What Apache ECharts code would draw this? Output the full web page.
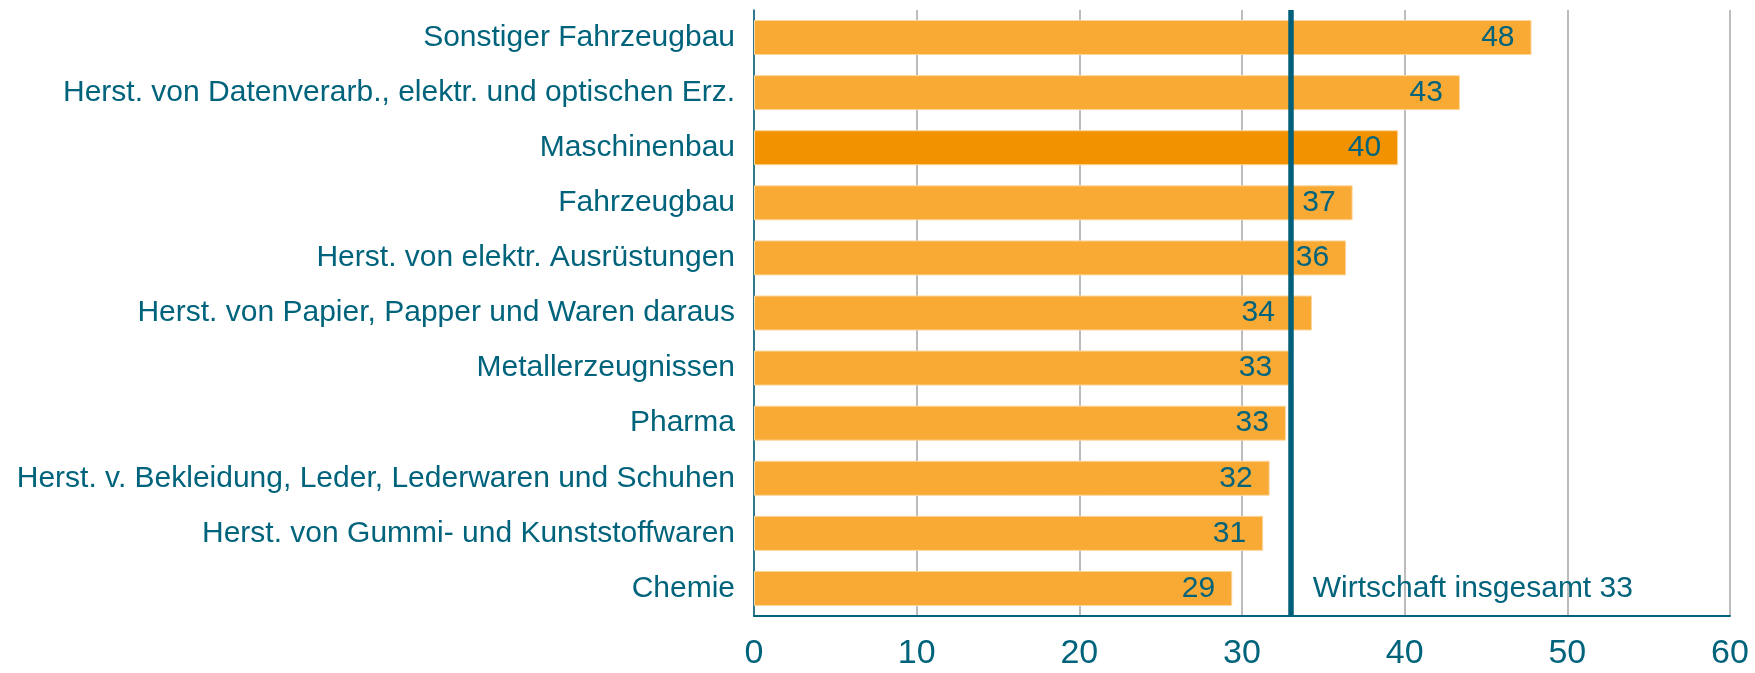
<!DOCTYPE html>
<html>
<head>
<meta charset="utf-8">
<script src="https://cdn.jsdelivr.net/npm/echarts@6/dist/echarts.min.js"></script>
<style>
  html, body { margin: 0; padding: 0; background: #fff; }
  #chart { width: 1755px; height: 673px; }
</style>
</head>
<body>
<div id="chart"></div>
<script>
// Branchen, von oben nach unten
const categories = [
  'Sonstiger Fahrzeugbau',
  'Herst. von Datenverarb., elektr. und optischen Erz.',
  'Maschinenbau',
  'Fahrzeugbau',
  'Herst. von elektr. Ausrüstungen',
  'Herst. von Papier, Papper und Waren daraus',
  'Metallerzeugnissen',
  'Pharma',
  'Herst. v. Bekleidung, Leder, Lederwaren und Schuhen',
  'Herst. von Gummi- und Kunststoffwaren',
  'Chemie'
]
const values = [47.8, 43.4, 39.6, 36.8, 36.4, 34.3, 32.9, 32.7, 31.7, 31.3, 29.4]
const highlighted = 'Maschinenbau'

// Referenzlinie
const refValue = 33
const refLabel = 'Wirtschaft insgesamt 33'

// x-Achse
const xMin = 0
const xMax = 60
const xStep = 10

const teal = '#00637c'
const barColor = '#f9aa35'
const barHighlight = '#f39200'
const font = "'Liberation Sans', Arial, sans-serif"

// Label, das sonst von der Referenzlinie verdeckt wird, etwas nach links schieben
const labelNudge = { 'Herst. von Papier, Papper und Waren daraus': -20 }

const chart = echarts.init(document.getElementById('chart'))

const option = {
  animation: false,
  textStyle: { fontFamily: font },
  grid: {
    left: 754,
    right: 25,
    top: 10,
    bottom: 57
  },
  xAxis: {
    type: 'value',
    min: xMin,
    max: xMax,
    interval: xStep,
    axisLine: { show: true, lineStyle: { color: teal, width: 2 } },
    axisTick: { show: false },
    axisLabel: { color: teal, fontSize: 34, margin: 21, fontFamily: font },
    splitLine: { show: true, lineStyle: { color: '#a6a6a6', width: 1.5 } }
  },
  yAxis: {
    type: 'category',
    inverse: true,
    data: categories,
    axisLine: { show: true, lineStyle: { color: teal, width: 1.5 } },
    axisTick: { show: false },
    axisLabel: { color: teal, fontSize: 30, margin: 19, fontFamily: font }
  },
  series: [
    {
      type: 'bar',
      barWidth: 35,
      data: values.map((v, i) => {
        const item = {
          value: v,
          itemStyle: { color: categories[i] === highlighted ? barHighlight : barColor }
        }
        if (labelNudge[categories[i]]) {
          item.label = { offset: [labelNudge[categories[i]], 0] }
        }
        return item
      }),
      itemStyle: { borderColor: '#fdd79c', borderWidth: 1 },
      label: {
        show: true,
        position: 'insideRight',
        distance: 17,
        color: teal,
        fontSize: 30,
        fontFamily: font,
        formatter: p => Math.round(p.value)
      },
      markLine: {
        silent: true,
        symbol: 'none',
        lineStyle: { color: '#005f7a', width: 5.5, type: 'solid' },
        label: { show: false },
        data: [{ xAxis: refValue }]
      },
      markPoint: {
        silent: true,
        symbol: 'circle',
        symbolSize: 0,
        label: {
          show: true,
          position: 'right',
          distance: 22,
          color: teal,
          fontSize: 30,
          fontFamily: font,
          formatter: refLabel
        },
        data: [{ coord: [refValue, categories.length - 1] }]
      }
    }
  ]
}

chart.setOption(option)
</script>
</body>
</html>
